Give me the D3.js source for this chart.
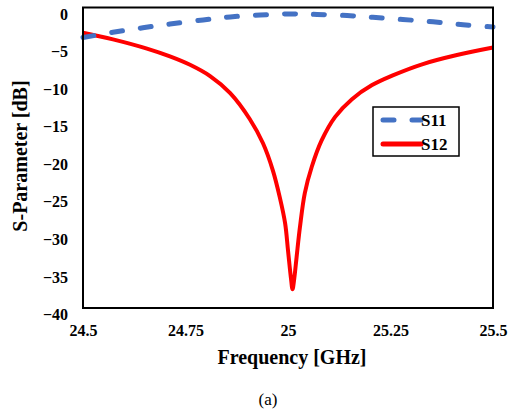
<!DOCTYPE html>
<html><head><meta charset="utf-8">
<script src="https://cdn.jsdelivr.net/npm/d3@7"></script>
<style>body{margin:0;background:#fff}svg{display:block}</style>
</head><body>
<svg id="c" width="508" height="412"></svg>
<script>
const freqS11 = [24.5, 24.573, 24.646, 24.712, 24.793, 24.859, 24.932, 25.005, 25.071, 25.144, 25.207, 25.28, 25.354, 25.427, 25.5];
const s11 = [-4.0, -3.3, -2.7, -2.2, -1.65, -1.25, -1.0, -0.85, -0.93, -1.07, -1.3, -1.6, -1.9, -2.3, -2.6];
const freqS12 = [24.5, 24.573, 24.656, 24.712, 24.761, 24.81, 24.859, 24.907, 24.939, 24.963, 24.98, 24.993, 25.0, 25.007, 25.011, 25.015, 25.021, 25.029, 25.041, 25.058, 25.082, 25.115, 25.156, 25.205, 25.254, 25.329, 25.412, 25.5];
const s12 = [-3.36, -4.24, -5.47, -6.51, -7.63, -9.13, -11.4, -14.87, -18.07, -21.67, -25.27, -28.73, -32.33, -35.93, -37.5, -36.2, -33.2, -29.3, -24.7, -21.2, -17.7, -14.56, -12.2, -10.33, -9.07, -7.53, -6.33, -5.33];
const xTicks = [24.5, 24.75, 25, 25.25, 25.5];
const xTickLabels = ["24.5", "24.75", "25", "25.25", "25.5"];
const yTicks = [0, -5, -10, -15, -20, -25, -30, -35, -40];
const seriesNames = ["S11", "S12"];

const svg = d3.select("#c");
const L = 83, R = 493, T = 7.5, B = 308;
const x = d3.scaleLinear().domain([24.5, 25.5]).range([L, R]);
const y = d3.scaleLinear().domain([-40, 0]).range([B, T]);
const font = "'Liberation Serif', 'Times New Roman', serif";

// axes
const gx = svg.append("g").attr("transform", `translate(0,${B})`)
  .call(d3.axisBottom(x).tickValues(xTicks).tickFormat((d,i)=>xTickLabels[i]).tickSize(0).tickPadding(23));
const gy = svg.append("g").attr("transform", `translate(${L},0)`)
  .call(d3.axisLeft(y).tickValues(yTicks).tickSize(0).tickPadding(15));
[gx, gy].forEach(g => {
  g.select(".domain").remove();
  g.selectAll("text").attr("font-family", font).attr("font-size", 16).attr("font-weight", "bold").attr("fill", "#000");
});
gy.selectAll("text").attr("dy", "0.32em").attr("transform", "translate(0,6.5)");
gx.selectAll("text").attr("dy", "0.3em");

// lines
const line = d3.line().x(d => x(d[0])).y(d => y(d[1])).curve(d3.curveCatmullRom.alpha(0.5));
svg.append("path").datum(freqS12.map((f,i)=>[f, s12[i]]))
  .attr("d", line).attr("fill", "none").attr("stroke", "#ff0000").attr("stroke-width", 4).attr("stroke-linejoin","round");
svg.append("path").datum(freqS11.map((f,i)=>[f, s11[i]]))
  .attr("d", line).attr("fill", "none").attr("stroke", "#4472c4").attr("stroke-width", 5)
  .attr("stroke-dasharray", "11 18").attr("stroke-linecap", "round");

// frame
svg.append("rect").attr("x", L).attr("y", T).attr("width", R - L).attr("height", B - T)
  .attr("fill", "none").attr("stroke", "#000").attr("stroke-width", 2);

// axis titles
svg.append("text").attr("x", 292).attr("y", 364).attr("text-anchor", "middle")
  .attr("font-family", font).attr("font-size", 20).attr("font-weight", "bold").text("Frequency [GHz]");
svg.append("text").attr("transform", "translate(27,156) rotate(-90)").attr("text-anchor", "middle")
  .attr("font-family", font).attr("font-size", 20).attr("font-weight", "bold").text("S-Parameter [dB]");
svg.append("text").attr("x", 268).attr("y", 405).attr("text-anchor", "middle")
  .attr("font-family", font).attr("font-size", 17).text("(a)");

// legend
const lg = svg.append("g");
lg.append("rect").attr("x", 373).attr("y", 107).attr("width", 86).attr("height", 49)
  .attr("fill", "#fff").attr("stroke", "#000").attr("stroke-width", 1.5);
lg.append("line").attr("x1", 383).attr("x2", 421).attr("y1", 120).attr("y2", 120)
  .attr("stroke", "#4472c4").attr("stroke-width", 5).attr("stroke-dasharray", "11 18").attr("stroke-linecap", "round");
lg.append("line").attr("x1", 383).attr("x2", 421).attr("y1", 144).attr("y2", 144)
  .attr("stroke", "#ff0000").attr("stroke-width", 5).attr("stroke-linecap", "round");
lg.selectAll("text.lt").data(seriesNames).enter().append("text").attr("class","lt")
  .attr("x", 421).attr("y", (d,i)=>126 + i*24)
  .attr("font-family", font).attr("font-size", 17).attr("font-weight", "bold").text(d=>d);
</script>
</body></html>
